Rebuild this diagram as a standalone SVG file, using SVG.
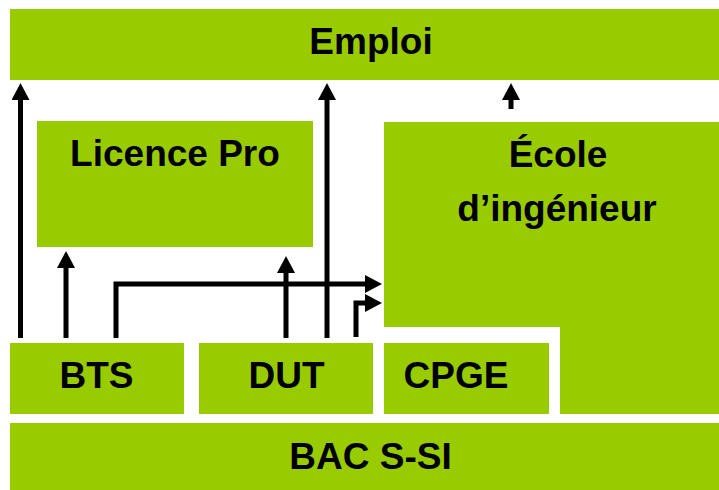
<svg xmlns="http://www.w3.org/2000/svg" width="719" height="490" viewBox="0 0 719 490">
<defs>
<style>
.box{fill:#99cc00;}
.lbl{font-family:"Liberation Sans",Arial,sans-serif;font-weight:bold;font-size:37px;fill:#000;text-anchor:middle;}
.con{fill:none;stroke:#000;stroke-width:5;stroke-linejoin:miter;}
</style>
<marker id="ah" markerUnits="userSpaceOnUse" markerWidth="17" markerHeight="18" refX="0" refY="9" orient="auto" viewBox="0 0 17 18">
<path d="M0,0 L17,9 L0,18 z" fill="#000"/>
</marker>
</defs>
<rect width="719" height="490" fill="#fff"/>
<g id="emploi"><rect class="box" x="10" y="9" width="709" height="71"/><text class="lbl" x="371" y="54">Emploi</text></g>
<g id="licence-pro"><rect class="box" x="37" y="121" width="276" height="126"/><text class="lbl" x="175" y="165.5">Licence Pro</text></g>
<g id="ecole"><polygon class="box" points="384,122 719,122 719,414 560,414 560,327 384,327"/><text class="lbl" x="558" y="167">École</text><text class="lbl" x="557" y="220.5">d’ingénieur</text></g>
<g id="bts"><rect class="box" x="10" y="343" width="174" height="71"/><text class="lbl" x="96.5" y="387.5">BTS</text></g>
<g id="dut"><rect class="box" x="199" y="343" width="174" height="71"/><text class="lbl" x="286.5" y="387.5">DUT</text></g>
<g id="cpge"><rect class="box" x="384" y="343" width="165" height="71"/><text class="lbl" x="456" y="387.5">CPGE</text></g>
<g id="bac"><rect class="box" x="10" y="423" width="709" height="67"/><text class="lbl" x="370.5" y="468.5">BAC S-SI</text></g>
<g id="connectors">
<path class="con" d="M20.5,338 V100" marker-end="url(#ah)"/>
<path class="con" d="M66,338 V268" marker-end="url(#ah)"/>
<path class="con" d="M116,338 V284 H365" marker-end="url(#ah)"/>
<path class="con" d="M286,338 V273" marker-end="url(#ah)"/>
<path class="con" d="M327,338 V100" marker-end="url(#ah)"/>
<path class="con" d="M356,337 V303 H365" marker-end="url(#ah)"/>
<path class="con" d="M511,109 V100" marker-end="url(#ah)"/>
</g>
</svg>
